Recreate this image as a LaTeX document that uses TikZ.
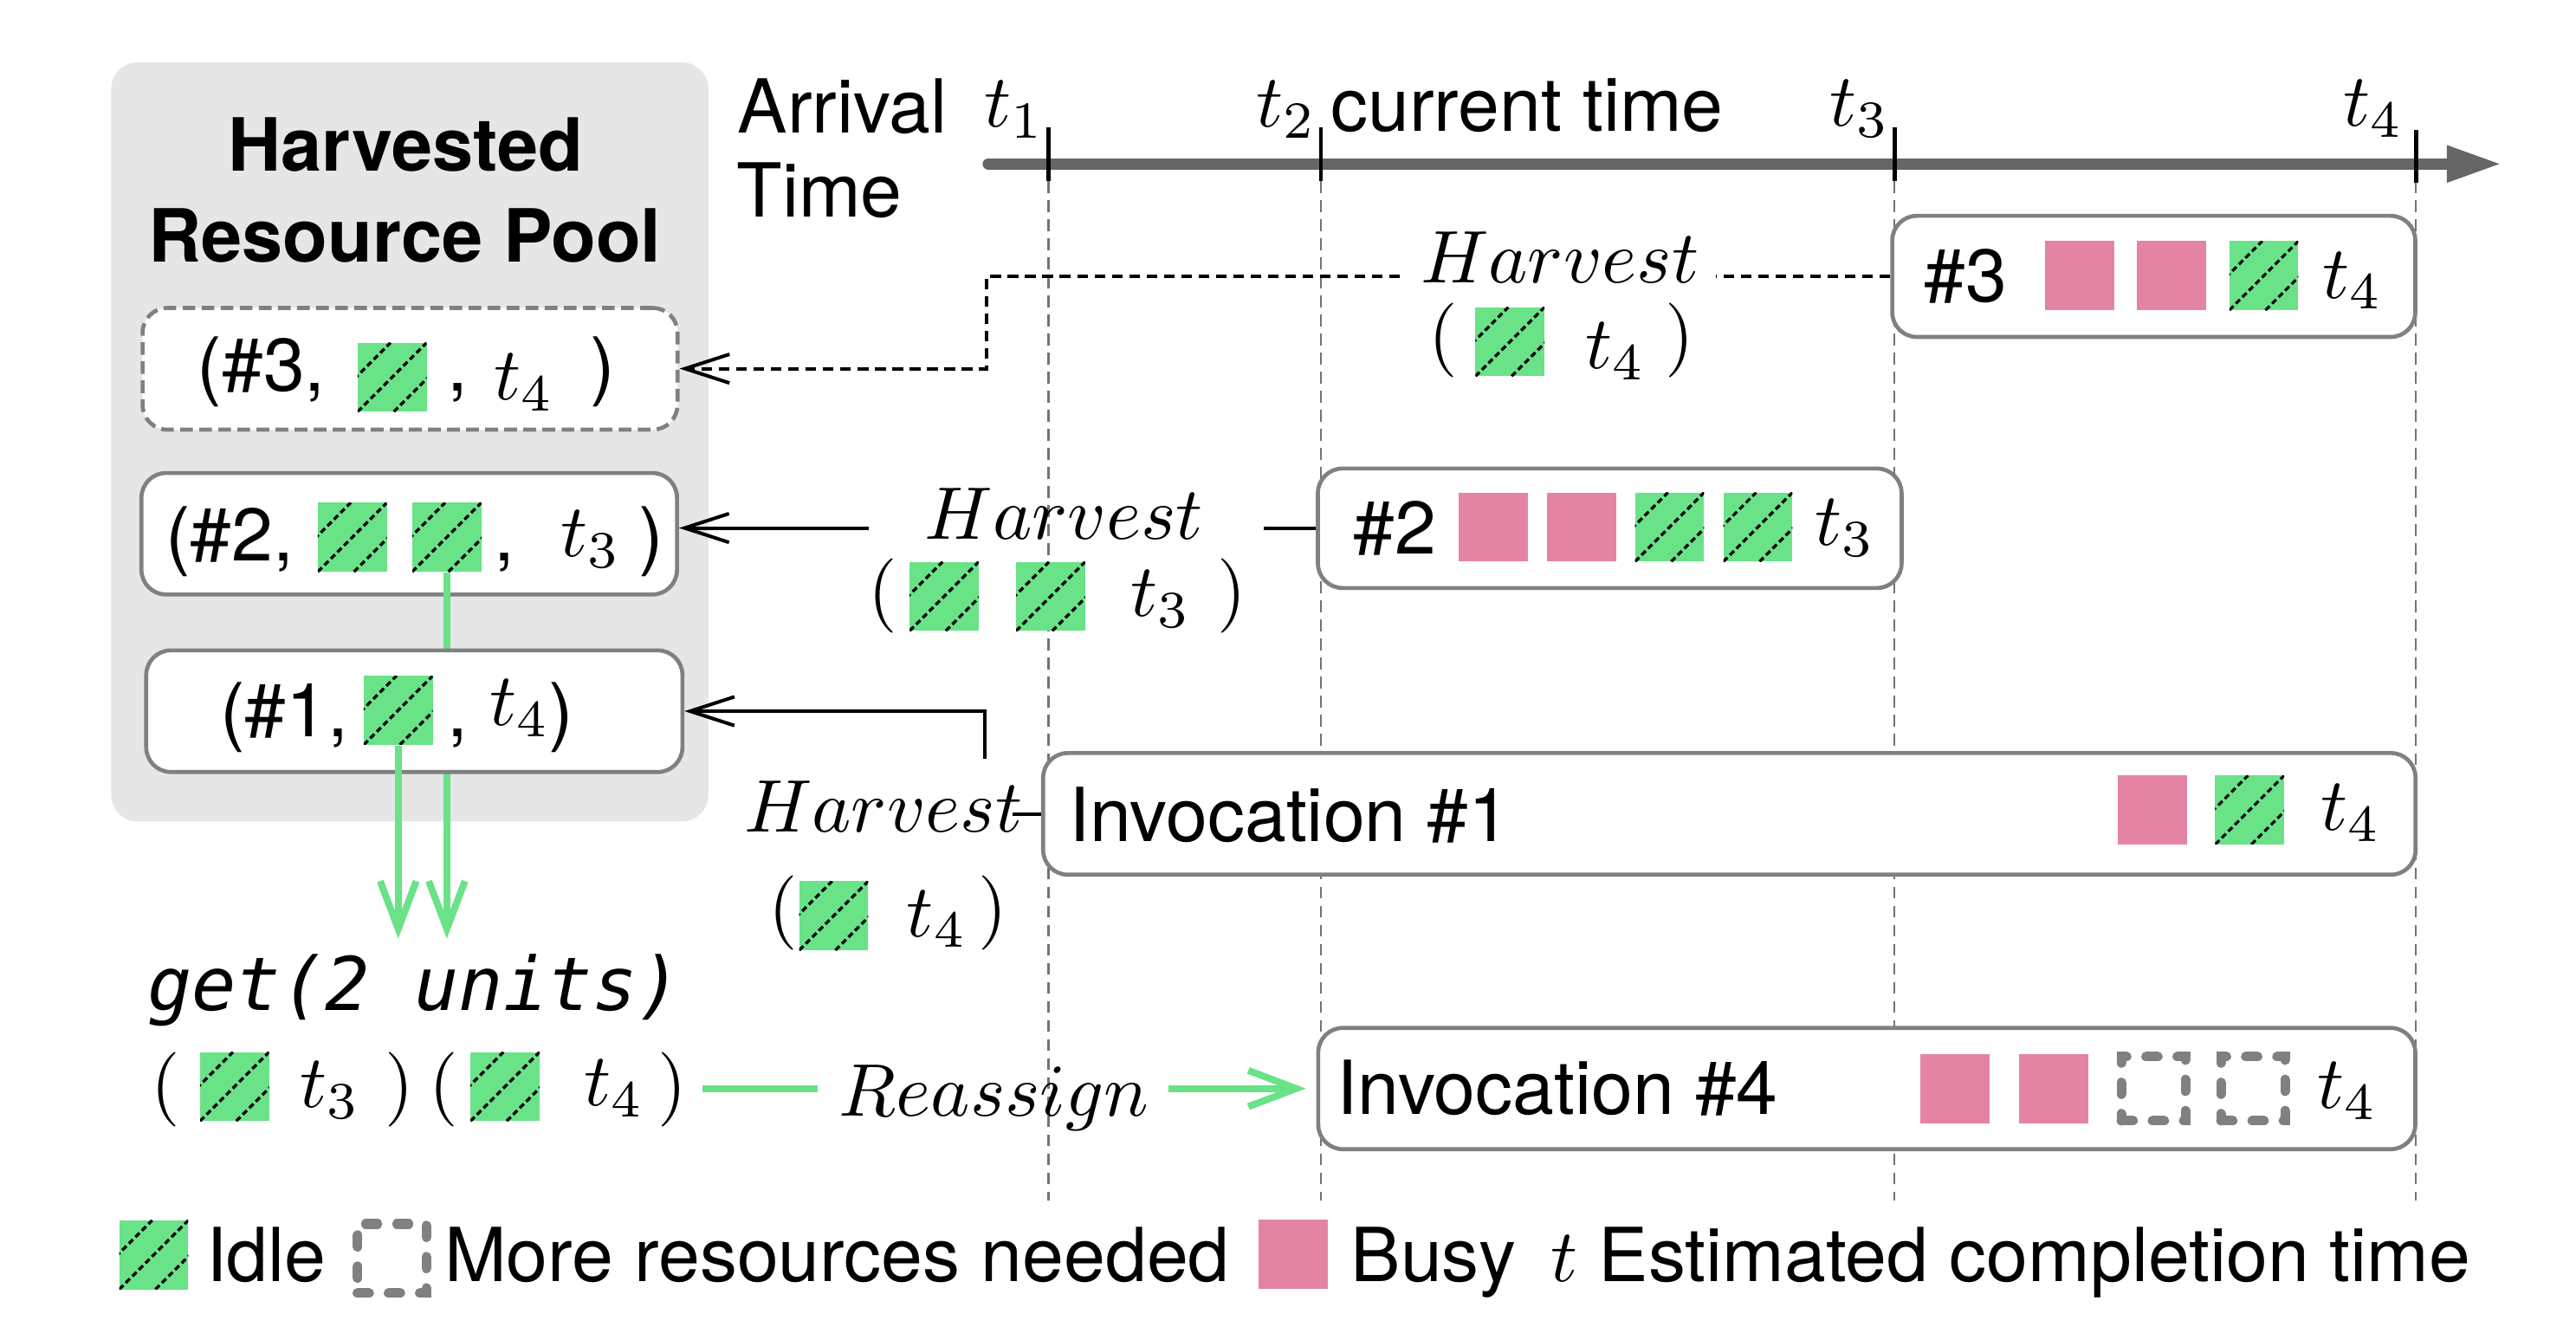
\RequirePackage{fix-cm}
\documentclass[tikz,border=0pt]{standalone}
\usepackage[no-math]{fontspec}
\setmainfont{TeX Gyre Heros}
\newfontfamily\codefont{DejaVu Sans Mono}
\usetikzlibrary{arrows.meta}

% math letters as a scaled-up 10pt setting
\DeclareFontShape{OML}{cmm}{m}{it}{<-10>cmmi7<10->cmmi10}{}
\DeclareFontShape{OT1}{cmr}{m}{n}{<-10>cmr7<10->cmr10}{}

\definecolor{poolgray}{RGB}{230,230,230}
\definecolor{boxgray}{RGB}{128,128,128}
\definecolor{axisgray}{RGB}{102,102,102}
\definecolor{guidegray}{RGB}{115,115,115}
\definecolor{idlegreen}{RGB}{106,226,136}
\definecolor{busypink}{RGB}{229,131,163}

\newcommand{\figfont}{\fontsize{12.9}{15.5}\selectfont}

\tikzset{
  txt/.style={inner sep=0pt, anchor=base west},
  jobbox/.style={draw=boxgray, line width=0.7pt, rounded corners=1.5mm, fill=white, inner sep=0pt},
  poolnew/.style={jobbox, dash pattern=on 2.2pt off 1.1pt},
  hatch/.style={black, line width=0.5pt, dash pattern=on 1pt off 0.6pt},
  busysq/.style={fill=busypink, minimum size=4.2mm, inner sep=0pt},
  idlesq/.style={fill=idlegreen, minimum size=4.2mm, inner sep=0pt, path picture={
      \foreach \c in {-2.2mm,0mm,2.2mm}
        \draw[hatch] ([xshift=\c]path picture bounding box.south west) -- ([xshift=\c]path picture bounding box.north east);}},
  needsq/.style={draw=boxgray, line width=1.7pt, dash pattern=on 2pt off 3.4pt, line cap=round, minimum size=3.9mm, inner sep=0pt},
  tickline/.style={black, line width=0.7pt},
  guideline/.style={guidegray, line width=0.35pt, dash pattern=on 2pt off 1.3pt},
  harvline/.style={black, line width=0.6pt},
  harvdash/.style={harvline, dash pattern=on 1.9pt off 1.1pt},
  harvbarb/.style={-{Straight Barb[length=2.7mm,width=1.75mm]}},
  greenline/.style={idlegreen, line width=1.2pt},
  greenbarb/.style={-{Straight Barb[length=2.9mm,width=2.2mm]}}
}

\begin{document}
\begin{tikzpicture}[x=0.01cm, y=-0.01cm, font=\figfont]
\useasboundingbox (0,0) rectangle (1568,807.6);

% harvested pool background
\fill[poolgray, rounded corners=1.6mm] (67.7,38) rectangle (431.2,500);
\node[txt, anchor=base, font={\fontsize{12.7}{15}\selectfont\bfseries}] (pooltitle) at (246.9,104) {Harvested};
\node[txt, anchor=base, font={\fontsize{12.7}{15}\selectfont\bfseries}] (pooltitle2) at (246.5,159.6) {Resource Pool};

% time axis
\node[txt] (arrival) at (448.4,80.8) {Arrival};
\node[txt] (arrival2) at (447.7,132.3) {Time};
\draw[guideline] (638.3,110.3) -- (638.3,731);
\draw[guideline] (804.1,110.3) -- (804.1,731);
\draw[guideline] (1153.2,110.3) -- (1153.2,731);
\draw[guideline] (1470.6,110.3) -- (1470.6,731);
\draw[axisgray, line width=2pt, line cap=round, -{Triangle[length=3.2mm,width=2.3mm,line width=0pt]}] (601.6,99.8) -- (1521.4,99.8);
\draw[tickline] (638.3,77.7) -- (638.3,110.3);
\draw[tickline] (804.1,77.7) -- (804.1,110.3);
\draw[tickline] (1153.2,77.7) -- (1153.2,110.3);
\draw[tickline] (1470.6,79) -- (1470.6,111.5);
\node[txt] (t1) at (598.4,77.1) {$t_1$};
\node[txt] (t2) at (764,77.1) {$t_2$};
\node[txt] (now) at (809.3,80) {current time};
\node[txt] (t3) at (1113.1,76.8) {$t_3$};
\node[txt] (t4) at (1425.8,76.8) {$t_4$};

% invocations on the time axis
\node[jobbox, minimum width=3.182cm, minimum height=0.737cm] (job3) at (1311,168.25) {};
\node[txt] (job3n) at (1170.7,183.8) {\#3};
\node[busysq] (job3a) at (1266,167.8) {};
\node[busysq] (job3b) at (1321.75,167.8) {};
\node[idlesq] (job3c) at (1378,167.8) {};
\node[txt] (job3t) at (1412.9,181.4) {$t_4$};

\node[jobbox, minimum width=3.551cm, minimum height=0.727cm] (job2) at (979.85,321.55) {};
\node[txt] (job2n) at (823.2,337.4) {\#2};
\node[busysq] (job2a) at (908.85,320.8) {};
\node[busysq] (job2b) at (962.55,320.8) {};
\node[idlesq] (job2c) at (1016.25,320.8) {};
\node[idlesq] (job2d) at (1070,320.8) {};
\node[txt] (job2t) at (1103.9,332) {$t_3$};

\node[jobbox, minimum width=8.349cm, minimum height=0.74cm] (inv1) at (1052.65,495.4) {};
\node[txt] (inv1n) at (650,512.3) {Invocation \#1};
\node[busysq] (inv1a) at (1310,493) {};
\node[idlesq] (inv1b) at (1369.4,493) {};
\node[txt] (inv1t) at (1411.9,505.5) {$t_4$};

\node[jobbox, minimum width=6.674cm, minimum height=0.738cm] (inv4) at (1136.3,662.6) {};
\node[txt] (inv4n) at (813.1,678.5) {Invocation \#4};
\node[busysq] (inv4a) at (1189.8,662.6) {};
\node[busysq] (inv4b) at (1250.2,662.6) {};
\node[needsq] (inv4c) at (1310.8,662.6) {};
\node[needsq] (inv4d) at (1371.5,662.6) {};
\node[txt] (inv4t) at (1409.9,674.8) {$t_4$};

% entries of the pool
\node[poolnew, minimum width=3.254cm, minimum height=0.74cm] (pool3) at (249.6,224.5) {};
\node[txt] (pool3n) at (119.3,238) {(\#3,};
\node[idlesq] (pool3a) at (238.7,229.6) {};
\node[txt] (pool3c) at (271.7,238) {,};
\node[txt] (pool3t) at (300.2,243.4) {$t_4$};
\node[txt] (pool3e) at (358.6,238) {)};

\node[jobbox, minimum width=3.258cm, minimum height=0.739cm] (pool2) at (249.1,324.9) {};
\node[txt] (pool2n) at (100,341.4) {(\#2,};
\node[idlesq] (pool2a) at (214.5,327) {};
\node[idlesq] (pool2b) at (272,327) {};
\node[txt] (pool2c) at (300,341.4) {,};
\node[txt] (pool2t) at (340.5,338.7) {$t_3$};
\node[txt] (pool2e) at (388.2,341.4) {)};

\coordinate (getin) at (250,571.3);
\draw[greenline, greenbarb] (pool2b.south) -- (pool2b.south |- getin);

\node[jobbox, minimum width=3.262cm, minimum height=0.74cm] (pool1) at (252.2,432.9) {};
\node[txt] (pool1n) at (133.3,448.4) {(\#1,};
\node[idlesq] (pool1a) at (242.4,432.3) {};
\node[txt] (pool1c) at (271.7,448.4) {,};
\node[txt] (pool1t) at (297.5,441.7) {$t_4$};
\node[txt] (pool1e) at (333.1,448.4) {)};

\draw[greenline, greenbarb] (pool1a.south) -- (pool1a.south |- getin);

% harvest of #3
\node[txt] (hv3) at (864,172.4) {$Harvest$};
\node[txt] (hv3o) at (868.9,218.4) {$($};
\node[idlesq] (hv3a) at (919.1,208) {};
\node[txt] (hv3t) at (964.6,224.4) {$t_4$};
\node[txt] (hv3e) at (1012.7,218.4) {$)$};
\coordinate (h3r) at (1044.4,168.25);
\coordinate (h3l) at (852.2,168.25);
\coordinate (h3bend) at (600.4,224.4);
\draw[harvdash] (job3.west) -- (h3r);
\draw[harvdash, harvbarb] (h3l) -| (h3bend) -- (pool3.east |- h3bend);

% harvest of #2
\node[txt] (hv2) at (562.3,328.3) {$Harvest$};
\node[txt] (hv2o) at (527.8,374.2) {$($};
\node[idlesq] (hv2a) at (574.7,363) {};
\node[idlesq] (hv2b) at (639.5,363) {};
\node[txt] (hv2t) at (687.7,375.3) {$t_3$};
\node[txt] (hv2e) at (740.1,374.2) {$)$};
\coordinate (h2r) at (769,321.55);
\coordinate (h2l) at (528.8,321.4);
\draw[harvline] (job2.west) -- (h2r);
\draw[harvline, harvbarb] (h2l) -- (pool2.east |- h2l);

% harvest of invocation #1
\node[txt] (hv1) at (452.2,506.4) {$Harvest$};
\node[txt] (hv1o) at (467.1,566.8) {$($};
\node[idlesq] (hv1a) at (507.5,557.4) {};
\node[txt] (hv1t) at (551.3,570) {$t_4$};
\node[txt] (hv1e) at (594.9,566.8) {$)$};
\coordinate (h1r) at (616.4,495.4);
\coordinate (h1up) at (599.3,461.7);
\draw[harvline] (inv1.west) -- (h1r);
\draw[harvline, harvbarb] (h1up) |- (pool1.east);

% request and reassignment
\node[txt, font={\fontsize{12.8}{15}\selectfont\codefont\itshape}] (getcall) at (89,615) {get(2 units)};
\node[txt] (geto1) at (91.3,674.8) {$($};
\node[idlesq] (geta) at (142.8,661.4) {};
\node[txt] (gett3) at (181.8,673.9) {$t_3$};
\node[txt] (gete1) at (233.8,674.8) {$)$};
\node[txt] (geto2) at (260.7,674.8) {$($};
\node[idlesq] (getb) at (307.4,661.4) {};
\node[txt] (gett4) at (355,673) {$t_4$};
\node[txt] (gete2) at (399.5,674.8) {$)$};
\node[txt] (reas) at (510.1,679.1) {$Reassign$};
\coordinate (ra1) at (427.6,662.5);
\coordinate (ra2) at (497.6,662.5);
\coordinate (ra3) at (711.1,662.6);
\draw[greenline] (ra1) -- (ra2);
\draw[greenline, greenbarb, shorten >=1.8pt] (ra3) -- (inv4.west);

% legend
\node[idlesq] (legidle) at (93.6,763.8) {};
\node[txt] (legidlet) at (124.8,780.2) {Idle};
\node[needsq, minimum size=4.2mm] (legneed) at (238.6,766) {};
\node[txt] (legneedt) at (269.9,780.2) {More resources needed};
\node[busysq] (legbusy) at (787.2,763.5) {};
\node[txt] (legbusyt) at (821.6,780.2) {Busy};
\node[txt] (legt) at (943.4,780.2) {$t$};
\node[txt] (legtt) at (972.4,780.2) {Estimated completion time};
\end{tikzpicture}
\end{document}
